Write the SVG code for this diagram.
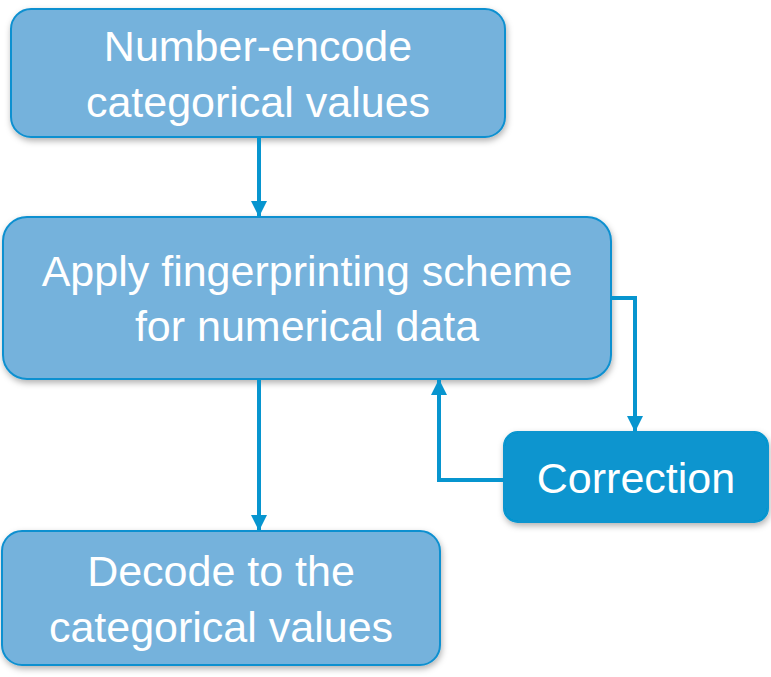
<svg xmlns="http://www.w3.org/2000/svg" width="771" height="677" viewBox="0 0 771 677">
<style>
.box{fill:#74B2DC;stroke:#0E90D0;stroke-width:2;filter:url(#sh)}
.box2{fill:#0795CF;stroke:#0795CF;stroke-width:2;filter:url(#sh)}
text{font-family:"Liberation Sans",Arial,sans-serif;font-size:43px;fill:#fff;text-anchor:middle}
.c{fill:none;stroke:#0795CF;stroke-width:4;marker-end:url(#ah)}
</style>
<defs>
<filter id="sh" x="-10%" y="-10%" width="120%" height="130%">
<feDropShadow dx="1" dy="3" stdDeviation="3" flood-color="#000" flood-opacity="0.3"/>
</filter>
<marker id="ah" viewBox="0 0 10 10" refX="10" refY="5" markerWidth="4" markerHeight="4" orient="auto" markerUnits="strokeWidth">
<path d="M0,0 L10,5 L0,10 z" fill="#0795CF"/>
</marker>
</defs>
<g id="n1"><rect class="box" x="11" y="9" width="494" height="128" rx="20"/>
<text x="258" y="61">Number-encode</text><text x="258" y="117">categorical values</text></g>
<g id="n2"><rect class="box" x="3" y="217" width="608" height="162" rx="24"/>
<text x="307" y="286">Apply fingerprinting scheme</text><text x="307" y="341">for numerical data</text></g>
<g id="n3"><rect class="box2" x="504" y="432" width="264" height="90" rx="14"/>
<text x="636" y="493">Correction</text></g>
<g id="n4"><rect class="box" x="2" y="531" width="438" height="134" rx="20"/>
<text x="221" y="586">Decode to the</text><text x="221" y="642">categorical values</text></g>
<g id="connectors">
<path class="c" d="M259,137 V217"/>
<path class="c" d="M259,379 V531"/>
<path class="c" d="M611,298 H635 V432"/>
<path class="c" d="M504,480 H439 V379"/>
</g>
</svg>
